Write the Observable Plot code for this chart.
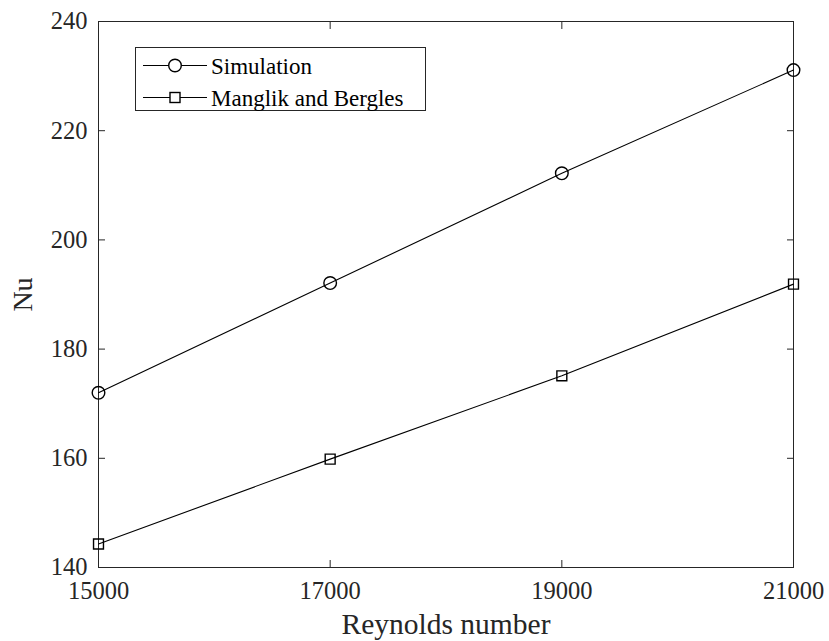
<!DOCTYPE html>
<html>
<head>
<meta charset="utf-8">
<script src="https://cdn.jsdelivr.net/npm/d3@7"></script>
<script src="https://cdn.jsdelivr.net/npm/@observablehq/plot@0.6"></script>
<style>
  html, body { margin: 0; padding: 0; background: #fff; }
  #chart svg { display: block; }
  #chart svg, #chart svg text { font-family: "Liberation Serif", "Times New Roman", "DejaVu Serif", serif !important; }
</style>
</head>
<body>
<div id="chart"></div>
<script>
const reynolds = [15000, 17000, 19000, 21000];
const simulation = [172.0, 192.1, 212.2, 231.1];
const manglikBergles = [144.3, 159.85, 175.1, 191.9];
const seriesNames = ["Simulation", "Manglik and Bergles"];
const xTicks = [15000, 17000, 19000, 21000];
const yTicks = [140, 160, 180, 200, 220, 240];

const simData = reynolds.map((x, i) => ({x, y: simulation[i]}));
const mbData = reynolds.map((x, i) => ({x, y: manglikBergles[i]}));

const AX = "#262626";
const fmt = d => String(d);

const chart = Plot.plot({
  width: 829,
  height: 641,
  marginLeft: 98,
  marginRight: 36,
  marginTop: 21,
  marginBottom: 74,
  style: {background: "#fff", color: AX},
  x: {domain: [15000, 21000]},
  y: {domain: [140, 240]},
  marks: [
    Plot.frame({stroke: AX, strokeWidth: 1}),
    Plot.axisX({ticks: xTicks, tickFormat: fmt, tickSize: -7, tickPadding: 21, fontSize: 24.5,
      label: "Reynolds number", labelAnchor: "center", labelArrow: "none", labelOffset: 66, stroke: AX}),
    Plot.axisX({anchor: "top", ticks: xTicks, tickFormat: () => "", tickSize: -7, label: null, stroke: AX}),
    Plot.axisY({ticks: yTicks, tickFormat: fmt, tickSize: -7, tickPadding: 18, fontSize: 24.5,
      label: "Nu", labelAnchor: "center", labelArrow: "none", labelOffset: 86, stroke: AX}),
    Plot.axisY({anchor: "right", ticks: yTicks, tickFormat: () => "", tickSize: -7, label: null, stroke: AX}),
    Plot.line(simData, {x: "x", y: "y", stroke: "#000", strokeWidth: 1.1}),
    Plot.line(mbData, {x: "x", y: "y", stroke: "#000", strokeWidth: 1.1}),
    Plot.dot(simData, {x: "x", y: "y", r: 6.3, symbol: "circle", stroke: "#000", strokeWidth: 1.4, fill: "none"}),
    Plot.dot(mbData, {x: "x", y: "y", r: 5.6, symbol: "square", stroke: "#000", strokeWidth: 1.4, fill: "none"})
  ]
});

// axis label font sizes
d3.select(chart).selectAll("[aria-label='x-axis label'] text").style("font-size", "29.5px");
d3.select(chart).selectAll("[aria-label='y-axis label'] text").style("font-size", "28px");

// Legend
const svg = d3.select(chart);
const lg = svg.append("g").attr("class", "legend").attr("text-anchor", "start");
lg.append("rect").attr("x", 135.5).attr("y", 47.5).attr("width", 290).attr("height", 63)
  .attr("fill", "#fff").attr("stroke", AX).attr("stroke-width", 1);
const rows = [{name: seriesNames[0], sym: "circle", y: 65.5}, {name: seriesNames[1], sym: "square", y: 97.5}];
rows.forEach(r => {
  lg.append("line").attr("x1", 143).attr("x2", 207).attr("y1", r.y).attr("y2", r.y)
    .attr("stroke", "#000").attr("stroke-width", 1.1);
  if (r.sym === "circle") {
    lg.append("circle").attr("cx", 175).attr("cy", r.y).attr("r", 6.3)
      .attr("fill", "#fff").attr("stroke", "#000").attr("stroke-width", 1.4);
  } else {
    lg.append("rect").attr("x", 170).attr("y", r.y - 5).attr("width", 10).attr("height", 10)
      .attr("fill", "#fff").attr("stroke", "#000").attr("stroke-width", 1.4);
  }
  lg.append("text").attr("x", 211).attr("y", r.y).attr("dy", "0.35em")
    .attr("text-anchor", "start")
    .style("font-size", "23px").attr("fill", "#000").text(r.name);
});

document.getElementById("chart").appendChild(chart);
</script>
</body>
</html>
